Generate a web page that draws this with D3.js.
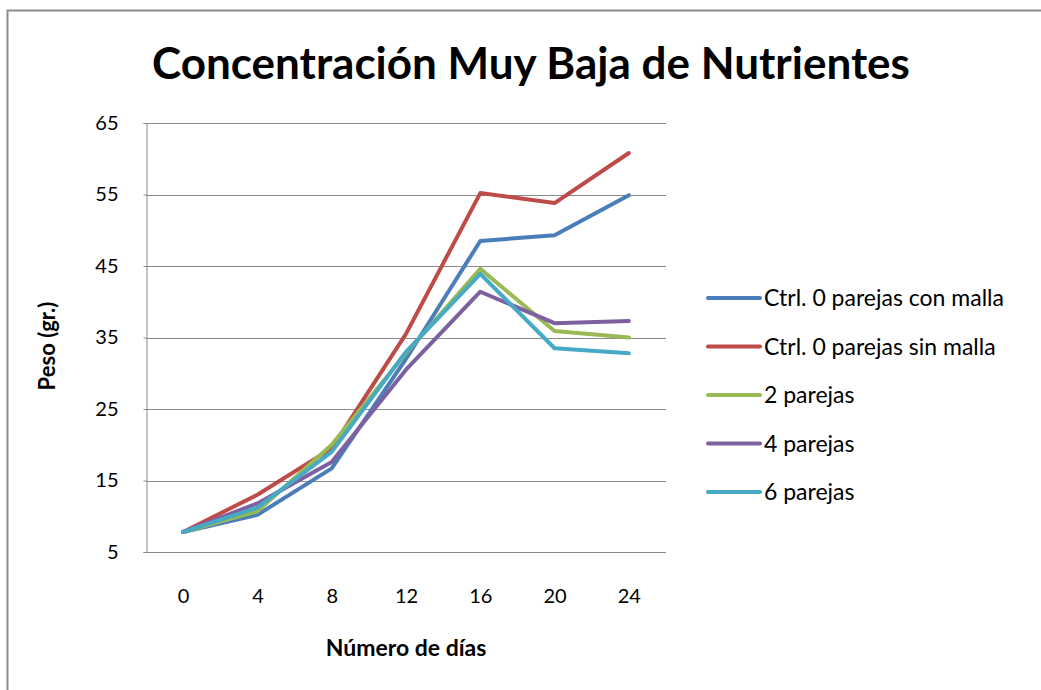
<!DOCTYPE html>
<html>
<head>
<meta charset="utf-8">
<script src="https://cdn.jsdelivr.net/npm/d3@7.8.5/dist/d3.min.js"></script>
<style>
  body { margin: 0; background: #fff; }
  svg text { font-family: Lato, "Open Sans", sans-serif; fill: #000; }
</style>
</head>
<body>
<div id="chart"></div>
<script>
// data
const days = [0, 4, 8, 12, 16, 20, 24];
const seriesNames = [
    'Ctrl. 0 parejas con malla',
    'Ctrl. 0 parejas sin malla',
    '2 parejas',
    '4 parejas',
    '6 parejas'
];
const conMalla = [7.8, 10.2, 16.7, 32.0, 48.5, 49.3, 54.9];
const sinMalla = [7.8, 13.0, 19.5, 35.5, 55.2, 53.8, 60.8];
const dosParejas = [7.8, 10.7, 20.0, 32.8, 44.6, 35.9, 35.0];
const cuatroParejas = [7.8, 11.8, 17.6, 30.5, 41.4, 37.0, 37.3];
const seisParejas = [7.8, 11.2, 19.0, 33.0, 43.9, 33.5, 32.8];
const yTicks = [5, 15, 25, 35, 45, 55, 65];
const colors = ['#4a7ebb', '#be4b48', '#98b954', '#7d60a0', '#46aac5'];

const allValues = [conMalla, sinMalla, dosParejas, cuatroParejas, seisParejas];
const series = seriesNames.map((name, i) => ({ name: name, color: colors[i], values: allValues[i] }));

const width = 1041, height = 690;
const plot = { left: 146, top: 123, right: 666, bottom: 552 };

const svg = d3.select('#chart').append('svg')
    .attr('width', width)
    .attr('height', height);

// outer chart frame
svg.append('rect')
    .attr('x', 7.5).attr('y', 10.5)
    .attr('width', 1040).attr('height', 700)
    .attr('fill', 'none')
    .attr('stroke', '#8c8c8c')
    .attr('stroke-width', 2);

const x = d3.scalePoint()
    .domain(days)
    .range([plot.left, plot.right])
    .padding(0.5);

const y = d3.scaleLinear()
    .domain([5, 65])
    .range([plot.bottom, plot.top]);

// gridlines
svg.append('g')
    .selectAll('line')
    .data(yTicks)
    .join('line')
    .attr('x1', plot.left).attr('x2', plot.right)
    .attr('y1', d => Math.round(y(d)) + 0.5)
    .attr('y2', d => Math.round(y(d)) + 0.5)
    .attr('stroke', '#8a8a8a')
    .attr('stroke-width', 1);

// y axis line + ticks
const yAxis = svg.append('g')
    .attr('transform', `translate(${plot.left + 0.5},0)`)
    .call(d3.axisLeft(y).tickValues(yTicks).tickSize(3).tickPadding(25));
yAxis.select('.domain').attr('stroke', '#8a8a8a');
yAxis.selectAll('.tick line').attr('stroke', '#8a8a8a');
yAxis.selectAll('.tick text')
    .style('font-size', '20px')
    .attr('fill', '#000');

// x axis labels
const xAxis = svg.append('g')
    .attr('transform', `translate(0,${plot.bottom + 0.5})`)
    .call(d3.axisBottom(x).tickSize(0).tickPadding(36));
xAxis.select('.domain').remove();
xAxis.selectAll('.tick text')
    .style('font-size', '20px')
    .attr('fill', '#000');

// lines
const line = d3.line()
    .x((d, i) => x(days[i]))
    .y(d => y(d));

svg.append('g')
    .selectAll('path')
    .data(series)
    .join('path')
    .attr('d', d => line(d.values))
    .attr('fill', 'none')
    .attr('stroke', d => d.color)
    .attr('stroke-width', 4)
    .attr('stroke-linejoin', 'round')
    .attr('stroke-linecap', 'round');

// title
svg.append('text')
    .attr('x', 531)
    .attr('y', 79)
    .attr('text-anchor', 'middle')
    .style('font-size', '44px')
    .style('font-weight', 'bold')
    .text('Concentración Muy Baja de Nutrientes');

// axis titles
svg.append('text')
    .attr('x', 406)
    .attr('y', 656)
    .attr('text-anchor', 'middle')
    .style('font-size', '23px')
    .style('font-weight', 'bold')
    .text('Número de días');

svg.append('text')
    .attr('transform', 'translate(55,346) rotate(-90)')
    .attr('text-anchor', 'middle')
    .style('font-size', '22px')
    .style('font-weight', 'bold')
    .text('Peso (gr.)');

// legend
const legend = svg.append('g')
    .selectAll('g')
    .data(series)
    .join('g')
    .attr('transform', (d, i) => `translate(708,${298 + i * 48.5})`);

legend.append('line')
    .attr('x1', 0).attr('x2', 52)
    .attr('stroke', d => d.color)
    .attr('stroke-width', 4)
    .attr('stroke-linecap', 'round');

legend.append('text')
    .attr('x', 56)
    .attr('dy', '0.35em')
    .style('font-size', '23px')
    .text(d => d.name);
</script>
</body>
</html>
